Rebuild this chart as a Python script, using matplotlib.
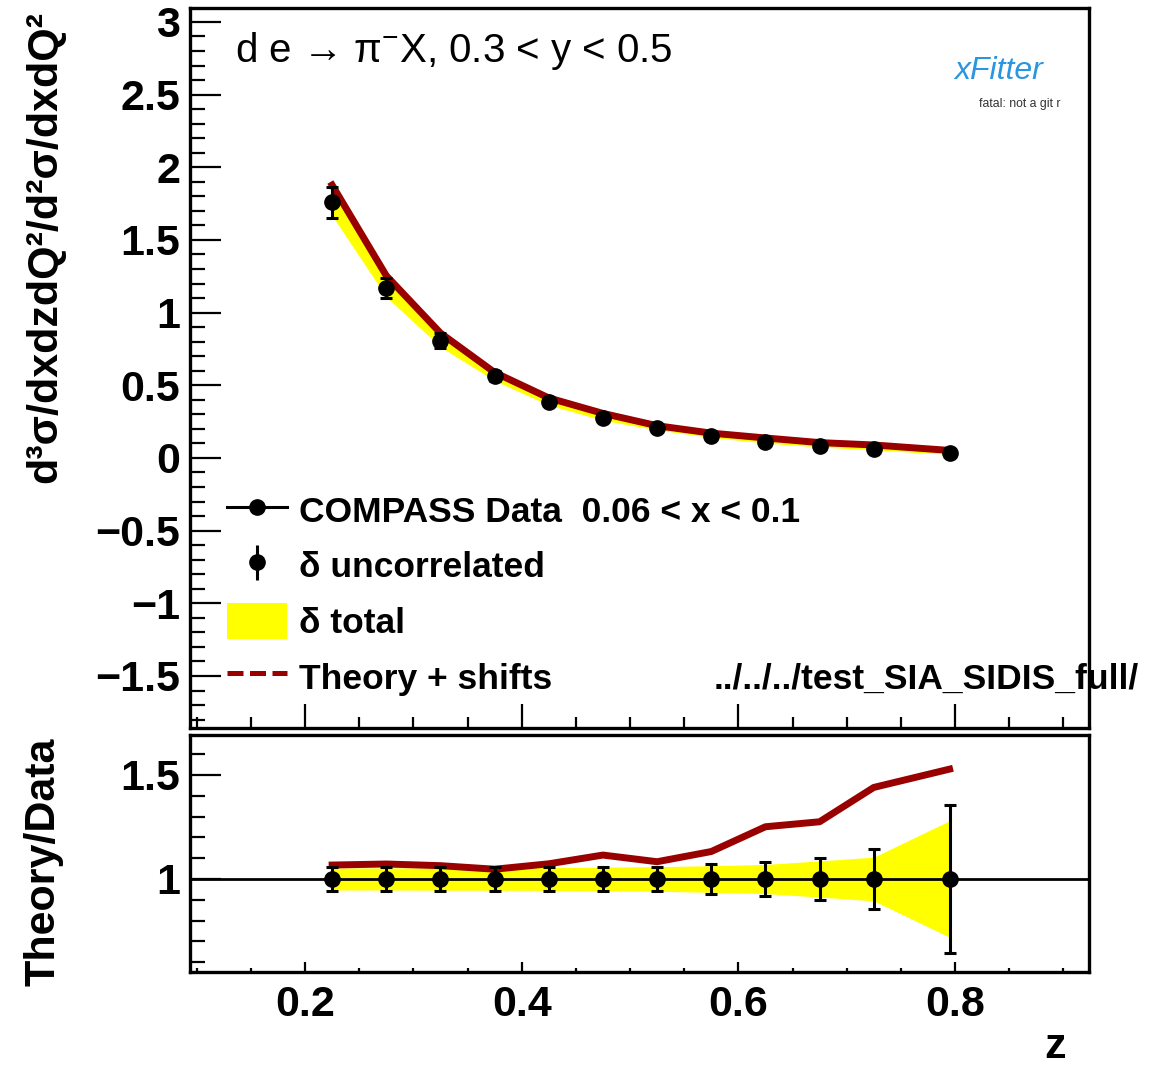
import numpy as np
import matplotlib
matplotlib.use("Agg")
import matplotlib.pyplot as plt
from matplotlib.lines import Line2D
from matplotlib.patches import Patch
from matplotlib.ticker import MultipleLocator, FuncFormatter

plt.rcParams["font.family"] = ["Liberation Sans", "DejaVu Sans"]
plt.rcParams["mathtext.fontset"] = "custom"
plt.rcParams["mathtext.rm"] = "Liberation Sans"
plt.rcParams["mathtext.it"] = "Liberation Sans:italic"
plt.rcParams["mathtext.bf"] = "Liberation Sans:bold"

# z bin centres of the COMPASS points
z = [0.225, 0.275, 0.325, 0.375, 0.425, 0.475, 0.525, 0.575, 0.625, 0.675, 0.725, 0.795]
# measured cross-section ratio
data = [1.76, 1.17, 0.808, 0.562, 0.385, 0.275, 0.205, 0.151, 0.110, 0.083, 0.062, 0.034]
# theory / data
ratio = [1.067, 1.072, 1.064, 1.047, 1.073, 1.115, 1.083, 1.132, 1.251, 1.275, 1.440, 1.528]
# relative uncertainties
unc_rel = [0.060, 0.060, 0.060, 0.060, 0.060, 0.060, 0.060, 0.070, 0.084, 0.100, 0.142, 0.356]
tot_rel = [0.053, 0.053, 0.054, 0.054, 0.055, 0.057, 0.059, 0.064, 0.070, 0.087, 0.105, 0.280]

title_text = r"d e → π$^{-}$X, 0.3 < y < 0.5"
data_label = "COMPASS Data  0.06 < x < 0.1"
path_text = "../../../test_SIA_SIDIS_full/"

RED = "#990000"
W, H = 1167, 1066

z = np.array(z)
data = np.array(data)
ratio = np.array(ratio)
unc_rel = np.array(unc_rel)
tot_rel = np.array(tot_rel)
theory = data * ratio


def root_fmt(v, pos):
    return f"{round(v, 3) + 0.0:g}".replace("-", "\u2212")


fig = plt.figure(figsize=(W / 100, H / 100), dpi=100)
ax = fig.add_axes([190 / W, 1 - 728 / H, 899 / W, 720 / H])
axr = fig.add_axes([190 / W, 1 - 972 / H, 899 / W, 237 / H])

xlim = (0.0938, 0.9237)

# ---- top panel
ax.fill_between(z, data * (1 - tot_rel), data * (1 + tot_rel), color="yellow", lw=0, zorder=1)
ax.plot(z, theory, color=RED, lw=5, zorder=2)
ax.errorbar(z, data, yerr=data * unc_rel, fmt="o", color="k", ms=11,
            elinewidth=2.2, capsize=4.5, capthick=2.2, zorder=3)
ax.set_xlim(*xlim)
ax.set_ylim(-1.858, 3.096)
ax.yaxis.set_major_locator(MultipleLocator(0.5))
ax.yaxis.set_minor_locator(MultipleLocator(0.1))
ax.yaxis.set_major_formatter(FuncFormatter(root_fmt))
ax.xaxis.set_major_locator(MultipleLocator(0.2))
ax.xaxis.set_minor_locator(MultipleLocator(0.05))
ax.tick_params(axis="both", which="both", direction="in", width=1.6,
               labelsize=31, top=False, right=False)
ax.tick_params(axis="y", which="major", length=22, pad=7)
ax.tick_params(axis="y", which="minor", length=11)
ax.tick_params(axis="x", which="major", length=17, labelbottom=False)
ax.tick_params(axis="x", which="minor", length=8)
for lab in ax.get_yticklabels():
    lab.set_fontweight("bold")

ax.text(0.05, 0.94, title_text, transform=ax.transAxes, fontsize=29,
        ha="left", va="center")
ax.text(0.582, 0.068, path_text, transform=ax.transAxes, fontsize=25.5,
        fontweight="bold", ha="left", va="center", clip_on=False)

# logo stand-in
ax.text(0.90, 0.912, "xFitter", transform=ax.transAxes, fontsize=23,
        style="italic", color="#2a95e0", ha="center", va="center")
ax.text(0.923, 0.866, "fatal: not a git r", transform=ax.transAxes, fontsize=8.8,
        color="#333333", ha="center", va="center")

eb = ax.errorbar([np.nan], [np.nan], yerr=[[0.0], [0.0]], fmt="o", color="k",
                 ms=11, elinewidth=2.2, capsize=0)
handles = [
    Line2D([], [], color="k", lw=2.2, marker="o", ms=11),
    eb,
    Patch(facecolor="yellow", edgecolor="none"),
    Line2D([], [], color=RED, lw=3.6, ls=(0, (3.2, 1.3))),
]
labels = [data_label, "δ uncorrelated", "δ total", "Theory + shifts"]
ax.legend(handles, labels, loc="upper left", bbox_to_anchor=(0.041, 0.328),
          frameon=False, prop={"weight": "bold", "size": 25.5},
          handlelength=1.7, handleheight=1.2, handletextpad=0.35,
          labelspacing=0.52, borderpad=0, borderaxespad=0)

# ---- ratio panel
axr.fill_between(z, 1 - tot_rel, 1 + tot_rel, color="yellow", lw=0, zorder=1)
axr.plot(z, ratio, color=RED, lw=5, zorder=2)
axr.axhline(1.0, color="k", lw=2, zorder=2.5)
axr.errorbar(z, np.ones_like(z), yerr=unc_rel, fmt="o", color="k", ms=11,
             elinewidth=2.2, capsize=4.5, capthick=2.2, zorder=3)
axr.set_xlim(*xlim)
axr.set_ylim(0.553, 1.692)
axr.yaxis.set_major_locator(MultipleLocator(0.5))
axr.yaxis.set_minor_locator(MultipleLocator(0.1))
axr.yaxis.set_major_formatter(FuncFormatter(root_fmt))
axr.xaxis.set_major_locator(MultipleLocator(0.2))
axr.xaxis.set_minor_locator(MultipleLocator(0.05))
axr.xaxis.set_major_formatter(FuncFormatter(root_fmt))
axr.tick_params(axis="both", which="both", direction="in", width=1.6,
                labelsize=31, top=False, right=False)
axr.tick_params(axis="y", which="major", length=22, pad=7)
axr.tick_params(axis="y", which="minor", length=11)
axr.tick_params(axis="x", which="major", length=7, pad=9)
axr.tick_params(axis="x", which="minor", length=3)
for lab in axr.get_yticklabels() + axr.get_xticklabels():
    lab.set_fontweight("bold")

for a in (ax, axr):
    for sp in a.spines.values():
        sp.set_linewidth(2.4)

fig.text(45 / W, 1 - 247 / H, "d³σ/dxdzdQ²/d²σ/dxdQ²", rotation=90,
         ha="center", va="center", fontsize=31, fontweight="bold")
fig.text(44 / W, 1 - 862 / H, "Theory/Data", rotation=90,
         ha="center", va="center", fontsize=31, fontweight="bold")
fig.text(1066 / W, 1 - 1058 / H, "z", ha="right", va="baseline",
         fontsize=31, fontweight="bold")

fig.savefig("out.png", dpi=100)
